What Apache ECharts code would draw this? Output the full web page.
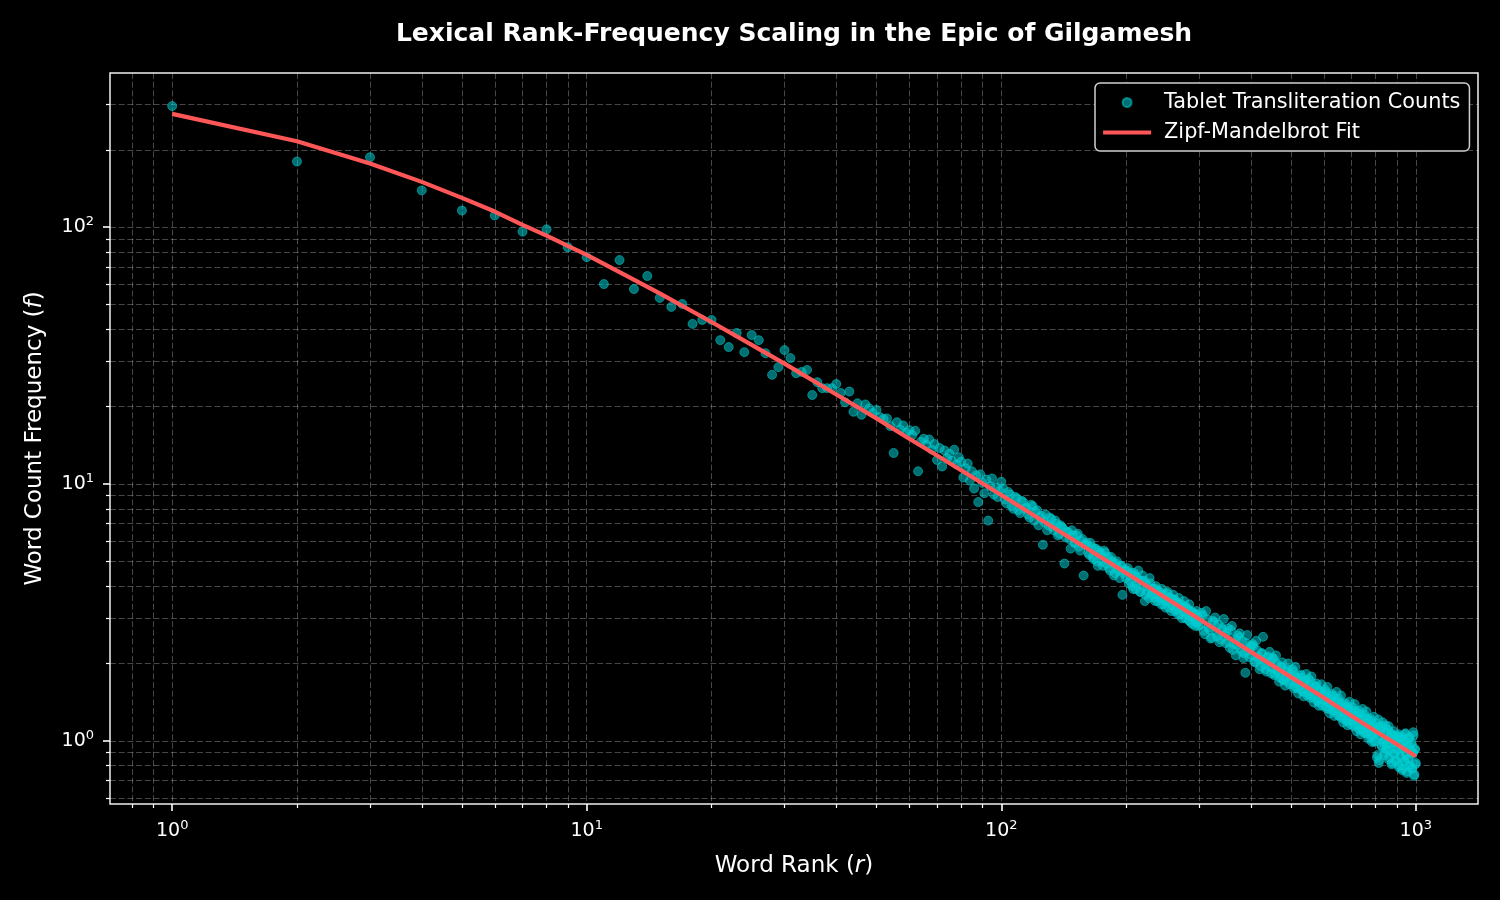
<!DOCTYPE html>
<html>
<head>
<meta charset="utf-8">
<title>Lexical Rank-Frequency Scaling</title>
<script src="https://cdn.jsdelivr.net/npm/echarts@6/dist/echarts.min.js"></script>
<style>
  html, body { margin: 0; background: #000; }
  #chart { width: 1500px; height: 900px; }
</style>
</head>
<body>
<div id="chart"></div>
<script>
// observed counts, ranks 1..100 (one per rank)
const headCounts = [
  296, 180, 187, 139, 116, 111, 96, 98, 83.5, 76.4,
  60, 74.4, 57.4, 64.5, 53, 48.9, 50.2, 42, 43.5, 43.5,
  36.3, 34.1, 38.7, 32.6, 38, 36.3, 32.3, 26.6, 28.5, 33.2,
  30.9, 27, 27.3, 27.8, 22.2, 24.9, 23.6, 23.6, 23.6, 24.5,
  22.6, 20.8, 22.9, 19.1, 20.6, 18.6, 20.4, 19.7, 18.9, 19.4,
  18.2, 17.9, 18.0, 16.8, 13.2, 17.4, 16.3, 16.9, 15.8, 16.2,
  15.5, 16.1, 11.2, 14.6, 15.0, 14.2, 14.9, 13.6, 14.3, 12.4,
  13.8, 11.7, 13.5, 12.6, 13.1, 12.3, 13.6, 11.9, 12.7, 12.2,
  10.6, 11.5, 12.0, 10.3, 11.2, 9.6, 10.8, 8.5, 10.9, 10.1,
  9.2, 10.4, 7.2, 9.8, 10.5, 9.1, 9.7, 8.9, 9.4, 10.2
]
// ranks 102..300, even ranks
const midCounts = [
  8.7, 9.3, 8.2, 8.9, 7.9, 8.6, 8.0, 7.6, 8.3, 7.2,
  7.9, 7.4, 5.8, 7.6, 6.9, 7.3, 6.6, 7.0, 6.4, 6.8,
  4.9, 6.5, 6.1, 6.6, 5.9, 6.3, 5.7, 6.0, 4.4, 5.8,
  5.4, 5.9, 5.2, 5.6, 5.0, 5.5, 5.3, 4.8, 5.4, 5.1,
  4.7, 5.2, 4.9, 4.5, 5.0, 4.6, 4.8, 3.7, 4.6, 4.3,
  4.7, 4.2, 4.5, 3.9, 4.4, 4.1, 4.6, 3.8, 4.2, 4.0,
  3.5, 4.1, 3.8, 4.3, 3.7, 3.9, 3.6, 4.0, 3.5, 3.8,
  3.6, 3.9, 3.4, 3.7, 3.5, 3.8, 3.3, 3.6, 3.4, 3.7,
  3.2, 3.5, 3.3, 3.6, 3.1, 3.4, 3.2, 3.5, 3.0, 3.3,
  3.1, 3.4, 2.9, 3.2, 3.0, 3.1, 2.8, 3.2, 2.9, 3.0
]
// ranks 101..299, odd ranks
const midOddCounts = [
  9.6, 8.4, 9.1, 8.0, 8.8, 7.7, 8.5, 8.1, 7.4, 8.2,
  7.8, 6.9, 7.5, 7.1, 6.6, 7.4, 6.8, 7.2, 6.3, 6.9,
  6.7, 6.2, 6.5, 5.6, 6.3, 5.9, 6.4, 5.5, 6.1, 5.8,
  5.9, 5.3, 5.7, 5.1, 5.6, 4.8, 5.4, 5.0, 5.5, 4.9,
  5.2, 4.6, 5.0, 4.4, 4.9, 4.7, 4.3, 4.8, 4.5, 4.6,
  4.6, 4.1, 4.4, 4.0, 4.5, 3.9, 4.3, 4.2, 3.8, 4.4,
  4.2, 3.7, 4.0, 3.6, 4.1, 3.8, 3.9, 3.5, 3.9, 3.7,
  3.8, 3.4, 3.7, 3.55, 3.3, 3.75, 3.45, 3.6, 3.2, 3.5,
  3.55, 3.25, 3.45, 3.1, 3.4, 3.3, 3.0, 3.35, 3.15, 3.3,
  3.25, 2.95, 3.2, 3.05, 2.85, 3.15, 3.0, 2.9, 3.1, 2.8
]
// ranks 304..1000, every 4th rank
const tailCounts = [
  3.15, 2.68, 3.20, 2.76, 2.50, 2.93, 3.02, 2.55, 2.42, 2.75, 2.98, 2.40,
  2.74, 2.30, 2.80, 2.38, 2.15, 2.57, 2.62, 2.22, 2.10, 1.84, 2.58, 2.12, 2.34,
  2.38, 2.03, 2.45, 2.12, 1.90, 2.20, 2.54, 2.00, 1.86, 2.13, 2.22, 1.83,
  2.10, 1.80, 2.15, 1.88, 1.70, 1.95, 2.02, 1.72, 1.64, 1.86, 2.00, 1.66, 1.80,
  1.90, 1.60, 1.94, 1.68, 1.53, 1.76, 1.81, 1.56, 1.49, 1.70, 1.82, 1.50,
  1.74, 1.47, 1.78, 1.55, 1.41, 1.63, 1.67, 1.44, 1.37, 1.56, 1.66, 1.37, 1.50,
  1.58, 1.34, 1.62, 1.41, 1.28, 1.49, 1.52, 1.31, 1.25, 1.42, 1.55, 1.26,
  1.46, 1.24, 1.50, 1.30, 1.18, 1.38, 1.40, 1.21, 1.15, 1.31, 1.42, 1.16, 1.27,
  1.35, 1.14, 1.39, 1.21, 1.09, 1.28, 1.31, 1.12, 1.06, 1.22, 1.33, 1.08,
  1.26, 1.07, 1.30, 1.13, 1.02, 1.19, 1.22, 1.05, 0.99, 1.14, 1.24, 1.00, 1.10,
  1.17, 0.88, 1.21, 0.84, 1.04, 1.12, 0.95, 1.18, 1.00, 0.90, 1.15, 0.93,
  1.10, 0.92, 1.14, 0.86, 0.97, 1.06, 0.82, 1.02, 1.09, 0.89, 0.99, 0.84, 1.04,
  0.93, 1.06, 0.80, 0.99, 0.86, 1.04, 0.78, 0.94, 1.01, 0.83, 1.07, 0.89, 0.76,
  0.97, 0.85, 1.03, 0.80, 0.92, 0.99, 0.78, 0.90, 1.05, 0.74, 0.93, 0.82
]
// ranks 302..998, every 4th rank
const tailCounts2 = [
  2.82, 3.08, 2.60, 2.97, 2.71, 2.52, 2.89, 2.64, 2.83, 2.48, 2.72, 2.56,
  2.62, 2.42, 2.70, 2.26, 2.49, 2.36, 2.53, 2.28, 2.44, 2.19, 2.40, 2.25, 2.31,
  2.15, 2.34, 2.02, 2.25, 2.08, 1.95, 2.18, 2.06, 1.90, 2.11, 1.94, 2.05,
  1.93, 2.08, 1.82, 1.99, 1.85, 1.76, 1.94, 1.73, 1.87, 1.78, 1.90, 1.70, 1.81,
  1.73, 1.86, 1.63, 1.77, 1.60, 1.71, 1.79, 1.59, 1.68, 1.55, 1.72, 1.61,
  1.65, 1.52, 1.70, 1.48, 1.60, 1.51, 1.63, 1.43, 1.57, 1.41, 1.54, 1.45, 1.52,
  1.44, 1.55, 1.36, 1.48, 1.33, 1.45, 1.38, 1.50, 1.31, 1.42, 1.34, 1.44,
  1.33, 1.41, 1.26, 1.37, 1.22, 1.34, 1.27, 1.36, 1.19, 1.31, 1.23, 1.33, 1.20,
  1.28, 1.20, 1.31, 1.15, 1.25, 1.18, 1.28, 1.11, 1.22, 1.14, 1.24, 1.10,
  1.19, 1.12, 1.23, 1.07, 1.16, 1.10, 1.20, 1.03, 1.13, 1.06, 1.15, 0.99, 1.11,
  1.07, 0.86, 1.13, 0.82, 1.05, 1.09, 0.96, 1.14, 0.99, 0.88, 1.08, 1.01,
  0.97, 1.11, 0.85, 1.02, 0.92, 1.07, 0.81, 0.99, 1.05, 0.89, 0.98, 0.83, 1.01,
  0.92, 1.04, 0.79, 0.96, 0.87, 1.02, 0.77, 0.93, 0.98, 0.83, 1.06, 0.88, 0.75,
  0.95, 0.85, 1.03, 0.80, 0.91, 0.97, 0.78, 0.89, 1.08, 0.73, 0.92, 0.81
]

// fitted curve
const fitRanks = [1, 2, 3, 4, 5, 6, 7, 8, 9, 10, 12, 15, 20, 25, 30, 40, 50, 60, 70, 80,
  100, 120, 150, 200, 250, 300, 400, 500, 600, 700, 800, 900, 1000]
const fitCounts = [276, 216, 177, 150, 130, 115, 102, 92.6, 84.5, 77.9, 66.8, 55.2, 42.7, 34.8, 29.4, 22.3, 18.0, 15.0, 12.9, 11.3,
  9.06, 7.54, 6.02, 4.50, 3.59, 2.98, 2.22, 1.77, 1.47, 1.25, 1.09, 0.97, 0.87]

const xMajorTicks = [1, 10, 100, 1000]
const xMinorTicks = [0.8, 0.9, 2, 3, 4, 5, 6, 7, 8, 9, 20, 30, 40, 50, 60, 70, 80, 90,
  200, 300, 400, 500, 600, 700, 800, 900]
const yMajorTicks = [1, 10, 100]
const yMinorTicks = [0.6, 0.7, 0.8, 0.9, 2, 3, 4, 5, 6, 7, 8, 9, 20, 30, 40, 50, 60, 70, 80, 90, 200, 300]

const FONT = 'DejaVu Sans'
const lg = Math.log10

const points = []
headCounts.forEach((c, i) => points.push([lg(i + 1), lg(c)]))
midOddCounts.forEach((c, i) => points.push([lg(101 + i * 2), lg(c)]))
midCounts.forEach((c, i) => points.push([lg(102 + i * 2), lg(c)]))
tailCounts2.forEach((c, i) => points.push([lg(302 + i * 4), lg(c)]))
tailCounts.forEach((c, i) => points.push([lg(304 + i * 4), lg(c)]))
const fitLine = fitRanks.map((r, i) => [lg(r), lg(fitCounts[i])])

const gridLine = { show: true, lineStyle: { color: 'rgba(255,255,255,0.28)', width: 1, type: [6, 2.7] } }
const powLabel = v => '{b|10}{s|' + Math.round(v) + '}'
const powRich = {
  b: { fontFamily: FONT, fontSize: 19, lineHeight: 24, color: '#fff' },
  s: { fontFamily: FONT, fontSize: 13, lineHeight: 11, color: '#fff', verticalAlign: 'top' }
}
const nameStyle = {
  fontFamily: FONT, fontSize: 23, color: '#fff',
  rich: { i: { fontFamily: FONT, fontSize: 23, fontStyle: 'italic', color: '#fff' } }
}

function majorAxis(ticks, range, extra) {
  return Object.assign({
    type: 'value',
    min: range[0],
    max: range[1],
    axisLine: { show: false, onZero: false },
    axisTick: { show: true, customValues: ticks.map(lg), length: 7, lineStyle: { color: '#fff', width: 1.6 } },
    splitLine: gridLine
  }, extra)
}
function minorAxis(ticks, range, pos) {
  return {
    type: 'value',
    min: range[0],
    max: range[1],
    position: pos,
    axisLine: { show: false, onZero: false },
    axisTick: { show: true, customValues: ticks.map(lg), length: 4, lineStyle: { color: '#fff', width: 1.2 } },
    axisLabel: { show: false },
    splitLine: gridLine
  }
}

const xRange = [-0.15, 3.15]
const yRange = [-0.246, 2.6]

const chart = echarts.init(document.getElementById('chart'))
chart.setOption({
  backgroundColor: '#000',
  animation: false,
  title: {
    text: 'Lexical Rank-Frequency Scaling in the Epic of Gilgamesh',
    left: 794,
    top: 22,
    textAlign: 'center',
    padding: 0,
    textStyle: { fontFamily: FONT, fontSize: 25, fontWeight: 'bold', color: '#fff' }
  },
  grid: {
    left: 110, top: 73, width: 1368, height: 731,
    show: true, borderColor: '#f0f0f0', borderWidth: 1.5, backgroundColor: 'transparent'
  },
  legend: {
    orient: 'vertical',
    left: 1095,
    top: 83,
    padding: [9, 9, 8, 6],
    itemWidth: 48,
    itemHeight: 9,
    itemGap: 9,
    align: 'left',
    backgroundColor: '#000',
    borderColor: '#cfcfcf',
    borderWidth: 1.5,
    borderRadius: 5,
    lineStyle: { width: 4.2 },
    textStyle: { fontFamily: FONT, fontSize: 20.8, lineHeight: 20, color: '#fff', padding: [0, 0, 0, 8] },
    data: [
      'Tablet Transliteration Counts',
      { name: 'Zipf-Mandelbrot Fit', itemStyle: { color: 'rgba(0,0,0,0)', borderColor: 'rgba(0,0,0,0)', borderWidth: 0 } }
    ]
  },
  xAxis: [
    majorAxis(xMajorTicks, xRange, {
      position: 'bottom',
      name: 'Word Rank ({i|r})',
      nameLocation: 'middle',
      nameGap: 51,
      nameTextStyle: nameStyle,
      axisLabel: { show: true, customValues: xMajorTicks.map(lg), formatter: powLabel, rich: powRich, margin: 15 }
    }),
    minorAxis(xMinorTicks, xRange, 'bottom')
  ],
  yAxis: [
    majorAxis(yMajorTicks, yRange, {
      position: 'left',
      name: 'Word Count Frequency ({i|f})',
      nameLocation: 'middle',
      nameGap: 63,
      nameTextStyle: nameStyle,
      axisLabel: { show: true, customValues: yMajorTicks.map(lg), formatter: powLabel, rich: powRich, margin: 16 }
    }),
    minorAxis(yMinorTicks, yRange, 'left')
  ],
  series: [
    {
      name: 'Tablet Transliteration Counts',
      type: 'scatter',
      xAxisIndex: 0,
      yAxisIndex: 0,
      symbolSize: 9,
      itemStyle: { color: 'rgba(0,206,209,0.68)', borderColor: 'rgba(0,206,209,0.68)', borderWidth: 1 },
      data: points,
      z: 2
    },
    {
      name: 'Zipf-Mandelbrot Fit',
      type: 'line',
      xAxisIndex: 0,
      yAxisIndex: 0,
      symbol: 'none',
      itemStyle: { color: '#ff5757' },
      lineStyle: { color: '#ff5757', width: 4.2 },
      data: fitLine,
      z: 3
    }
  ]
})
</script>
</body>
</html>
